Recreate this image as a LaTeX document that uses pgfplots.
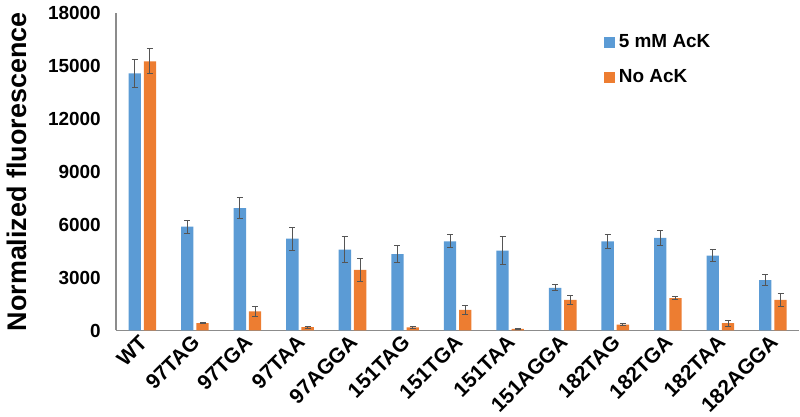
\documentclass[border=0pt]{standalone}
\usepackage{pgfplots}
\usepackage{pgfplotstable}
\pgfplotsset{compat=1.18}
\usepackage{fontspec}
\setmainfont{Liberation Sans}
\definecolor{blueb}{HTML}{5B9BD5}
\definecolor{orangeb}{HTML}{ED7D31}
\definecolor{axisc}{HTML}{8C8C8C}
\definecolor{errc}{HTML}{555555}

\pgfplotstableread{
x  ack   ackerr  no    noerr
0  14600 780     15280 700
1  5900  370     420   30
2  6950  600     1080  260
3  5210  650     190   50
4  4590  750     3440  650
5  4340  480     180   50
6  5060  360     1170  260
7  4530  800     90    30
8  2420  170     1740  250
9  5060  400     330   70
10 5250  400     1840  100
11 4250  330     420   170
12 2860  300     1740  350
}\datatable

\begin{document}
\begin{tikzpicture}
\begin{axis}[
  scale only axis,
  width=342.5pt, height=159pt,
  xmin=-0.5, xmax=12.5, ymin=0, ymax=18000,
  ytick={0,3000,6000,9000,12000,15000,18000},
  xtick={0,1,2,3,4,5,6,7,8,9,10,11,12},
  xticklabels={WT,97TAG,97TGA,97TAA,97AGGA,151TAG,151TGA,151TAA,151AGGA,182TAG,182TGA,182TAA,182AGGA},
  xticklabel style={rotate=45, anchor=north east, font=\bfseries\fontsize{10.5}{11}\selectfont, inner sep=1pt, xshift=0pt, yshift=3pt},
  yticklabel style={font=\bfseries\fontsize{9.5}{10}\selectfont, xshift=-2pt},
  /pgf/number format/assume math mode=true,
  scaled y ticks=false,
  y tick label style={/pgf/number format/1000 sep={}},
  tick style={draw=none},
  axis x line=bottom, axis y line=left,
  axis line style={axisc, line width=0.8pt, -},
  ylabel={\bfseries Normalized fluorescence},
  ylabel style={font=\fontsize{13.5}{14}\selectfont, yshift=4pt},
  legend style={draw=none, fill=none, at={(0.705,0.96)}, anchor=north west,
    font=\bfseries\fontsize{9.5}{10}\selectfont, row sep=5.5pt, cells={anchor=west}},
  legend image code/.code={\fill[#1] (0pt,-2.7pt) rectangle (5.4pt,2.7pt);},
  error bars/y dir=both, error bars/y explicit,
  error bars/error bar style={errc, line width=0.5pt},
  error bars/error mark options={errc, rotate=90, mark size=1.5pt, line width=0.5pt},
]
\addplot[ybar, bar width=0.235, bar shift=0, fill=blueb, draw=none]
  table[x expr=\thisrow{x}-0.145, y=ack, y error=ackerr] {\datatable};
\addlegendentry{5 mM AcK}
\addplot[ybar, bar width=0.235, bar shift=0, fill=orangeb, draw=none]
  table[x expr=\thisrow{x}+0.145, y=no, y error=noerr] {\datatable};
\addlegendentry{No AcK}
\end{axis}
\end{tikzpicture}
\end{document}
